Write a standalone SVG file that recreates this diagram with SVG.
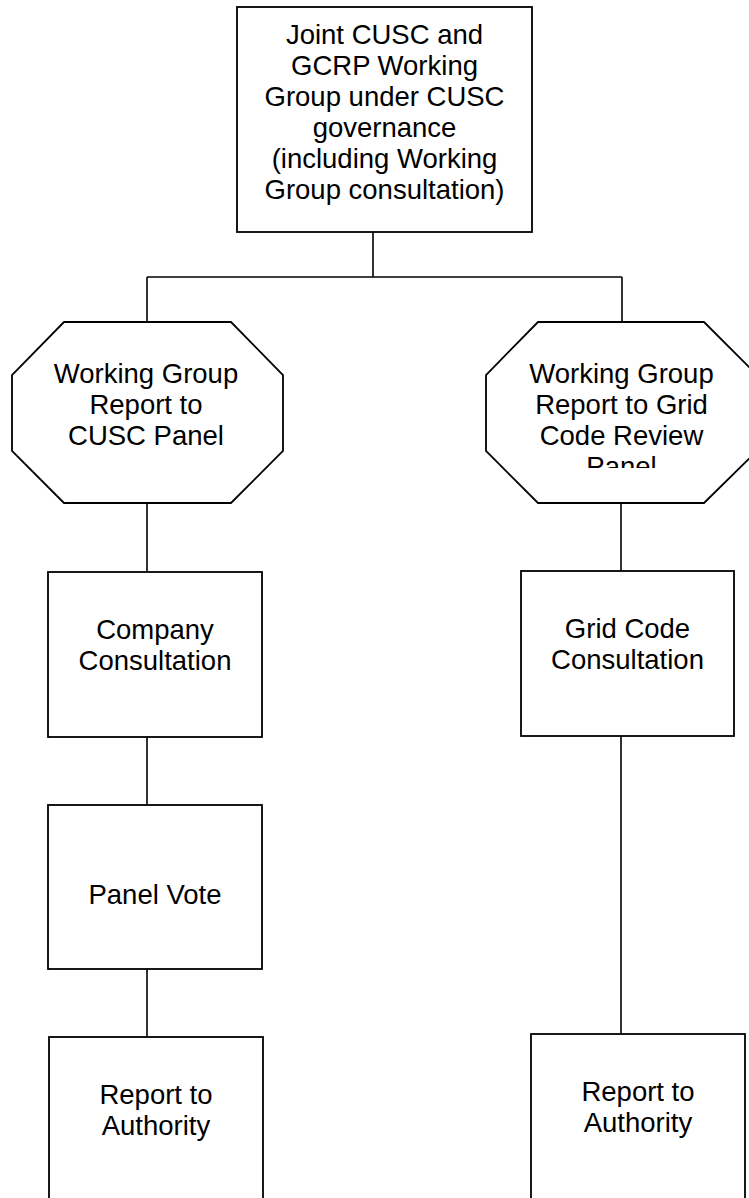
<svg xmlns="http://www.w3.org/2000/svg" width="749" height="1198" viewBox="0 0 749 1198">
<style>
.box{fill:#fff;stroke:#000;stroke-width:1.8}
.conn{fill:none;stroke:#000;stroke-width:1.6}
text{font-family:"Liberation Sans",Arial,sans-serif;font-size:27.5px;fill:#000;text-anchor:middle}
</style>
<defs>
<clipPath id="clipR"><rect x="486" y="322" width="263" height="146"/></clipPath>
</defs>
<rect width="749" height="1198" fill="#fff"/>
<g id="connectors">
<line class="conn" x1="373" y1="232" x2="373" y2="277"/>
<line class="conn" x1="147" y1="277" x2="622" y2="277"/>
<line class="conn" x1="147" y1="277" x2="147" y2="322"/>
<line class="conn" x1="622" y1="277" x2="622" y2="322"/>
<line class="conn" x1="147" y1="503" x2="147" y2="572"/>
<line class="conn" x1="621" y1="503" x2="621" y2="571"/>
<line class="conn" x1="147" y1="737" x2="147" y2="805"/>
<line class="conn" x1="147" y1="969" x2="147" y2="1037"/>
<line class="conn" x1="621" y1="736" x2="621" y2="1034"/>
</g>
<g id="joint-working-group">
<rect class="box" x="237" y="7" width="295" height="225"/>
<text x="384.5" y="44">Joint CUSC and</text>
<text x="384.5" y="75">GCRP Working</text>
<text x="384.5" y="106">Group under CUSC</text>
<text x="384.5" y="137">governance</text>
<text x="384.5" y="168">(including Working</text>
<text x="384.5" y="199">Group consultation)</text>
</g>
<g id="wg-report-cusc">
<polygon class="box" points="64,322 231,322 283,375 283,451 231,503 64,503 12,451 12,375"/>
<text x="146" y="383">Working Group</text>
<text x="146" y="414">Report to</text>
<text x="146" y="445">CUSC Panel</text>
</g>
<g id="wg-report-grid">
<polygon class="box" points="538,322 704,322 757,375 757,451 704,503 538,503 486,451 486,375"/>
<g clip-path="url(#clipR)">
<text x="621.5" y="383">Working Group</text>
<text x="621.5" y="414">Report to Grid</text>
<text x="621.5" y="445">Code Review</text>
<text x="621.5" y="476">Panel</text>
</g>
</g>
<g id="company-consultation">
<rect class="box" x="48" y="572" width="214" height="165"/>
<text x="155" y="639">Company</text>
<text x="155" y="670">Consultation</text>
</g>
<g id="grid-code-consultation">
<rect class="box" x="521" y="571" width="213" height="165"/>
<text x="627.5" y="638">Grid Code</text>
<text x="627.5" y="669">Consultation</text>
</g>
<g id="panel-vote">
<rect class="box" x="48" y="805" width="214" height="164"/>
<text x="155" y="904">Panel Vote</text>
</g>
<g id="report-authority-left">
<rect class="box" x="49" y="1037" width="214" height="170"/>
<text x="156" y="1104">Report to</text>
<text x="156" y="1135">Authority</text>
</g>
<g id="report-authority-right">
<rect class="box" x="531" y="1034" width="214" height="170"/>
<text x="638" y="1101">Report to</text>
<text x="638" y="1132">Authority</text>
</g>
</svg>
